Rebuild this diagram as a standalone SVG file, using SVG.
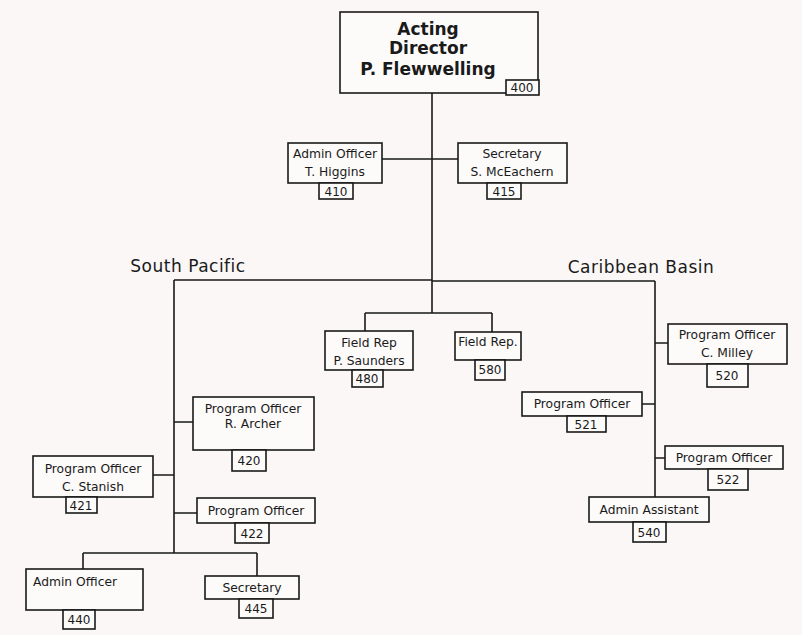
<svg xmlns="http://www.w3.org/2000/svg" width="802" height="635" viewBox="0 0 802 635">
<style>
.bx{fill:#fdfafa;stroke:#1a1a1a;stroke-width:1.6}
.bd{fill:#fdfafa;stroke:#1a1a1a;stroke-width:1.6}
.ln{fill:none;stroke:#1a1a1a;stroke-width:1.6}
text{font-family:"DejaVu Sans","Liberation Sans",sans-serif;fill:#1a1a1a;text-anchor:middle}
.t{font-size:12.3px}
.n{font-size:12px}
.h{font-size:17px;font-weight:bold}
.s{font-size:17px;letter-spacing:0.5px}
</style>
<rect width="802" height="635" fill="#fbf7f6"/>
<g id="connectors">
<path class="ln" d="M432 93V313M382 159H458M174 280H432M432 281H655M174 280V553M655 281V497M365 313H492M365 313V331M492 313V332M655 343H668M642 404H655M655 458H665M174 422H193M153 475H174M174 513H197M83 553H257M83 553V569M257 553V576"/>
</g>
<g id="labels">
<text class="s" x="188" y="272">South Pacific</text>
<text class="s" x="641" y="273">Caribbean Basin</text>
</g>
<g id="n400">
<rect class="bx" x="340" y="12" width="198" height="81"/>
<text class="h" x="428" y="35">Acting</text>
<text class="h" x="428" y="54">Director</text>
<text class="h" x="428" y="75">P. Flewwelling</text>
<rect class="bd" x="506" y="80" width="33" height="15"/>
<text class="n" x="522" y="92">400</text>
</g>
<g id="n410">
<rect class="bx" x="288" y="143" width="94" height="40"/>
<text class="t" x="335" y="158">Admin Officer</text>
<text class="t" x="335" y="176">T. Higgins</text>
<rect class="bd" x="319" y="183" width="34" height="16"/>
<text class="n" x="336" y="196">410</text>
</g>
<g id="n415">
<rect class="bx" x="458" y="143" width="109" height="40"/>
<text class="t" x="512" y="158">Secretary</text>
<text class="t" x="512" y="176">S. McEachern</text>
<rect class="bd" x="487" y="183" width="34" height="16"/>
<text class="n" x="504" y="196">415</text>
</g>
<g id="n480">
<rect class="bx" x="325" y="331" width="88" height="39"/>
<text class="t" x="369" y="347">Field Rep</text>
<text class="t" x="369" y="365">P. Saunders</text>
<rect class="bd" x="352" y="370" width="31" height="17"/>
<text class="n" x="367" y="383">480</text>
</g>
<g id="n580">
<rect class="bx" x="455" y="332" width="66" height="28"/>
<text class="t" x="488" y="346">Field Rep.</text>
<rect class="bd" x="475" y="360" width="30" height="20"/>
<text class="n" x="490" y="374">580</text>
</g>
<g id="n520">
<rect class="bx" x="668" y="324" width="119" height="40"/>
<text class="t" x="727" y="339">Program Officer</text>
<text class="t" x="727" y="357">C. Milley</text>
<rect class="bd" x="707" y="364" width="41" height="23"/>
<text class="n" x="727" y="380">520</text>
</g>
<g id="n521">
<rect class="bx" x="522" y="392" width="120" height="24"/>
<text class="t" x="582" y="408">Program Officer</text>
<rect class="bd" x="567" y="416" width="39" height="16"/>
<text class="n" x="586" y="429">521</text>
</g>
<g id="n522">
<rect class="bx" x="665" y="446" width="118" height="23"/>
<text class="t" x="724" y="462">Program Officer</text>
<rect class="bd" x="708" y="469" width="40" height="21"/>
<text class="n" x="728" y="484">522</text>
</g>
<g id="n540">
<rect class="bx" x="589" y="497" width="120" height="25"/>
<text class="t" x="649" y="514">Admin Assistant</text>
<rect class="bd" x="633" y="522" width="33" height="20"/>
<text class="n" x="649" y="537">540</text>
</g>
<g id="n420">
<rect class="bx" x="193" y="397" width="121" height="53"/>
<text class="t" x="253" y="413">Program Officer</text>
<text class="t" x="253" y="428">R. Archer</text>
<rect class="bd" x="232" y="450" width="34" height="21"/>
<text class="n" x="249" y="465">420</text>
</g>
<g id="n421">
<rect class="bx" x="33" y="456" width="120" height="41"/>
<text class="t" x="93" y="473">Program Officer</text>
<text class="t" x="93" y="491">C. Stanish</text>
<rect class="bd" x="66" y="497" width="31" height="16"/>
<text class="n" x="81" y="510">421</text>
</g>
<g id="n422">
<rect class="bx" x="197" y="498" width="118" height="25"/>
<text class="t" x="256" y="515">Program Officer</text>
<rect class="bd" x="235" y="523" width="34" height="20"/>
<text class="n" x="252" y="538">422</text>
</g>
<g id="n440">
<rect class="bx" x="26" y="569" width="117" height="41"/>
<text class="t" x="75" y="586">Admin Officer</text>
<rect class="bd" x="63" y="610" width="32" height="19"/>
<text class="n" x="79" y="624">440</text>
</g>
<g id="n445">
<rect class="bx" x="205" y="576" width="94" height="23"/>
<text class="t" x="252" y="592">Secretary</text>
<rect class="bd" x="239" y="599" width="34" height="19"/>
<text class="n" x="256" y="613">445</text>
</g>
</svg>
